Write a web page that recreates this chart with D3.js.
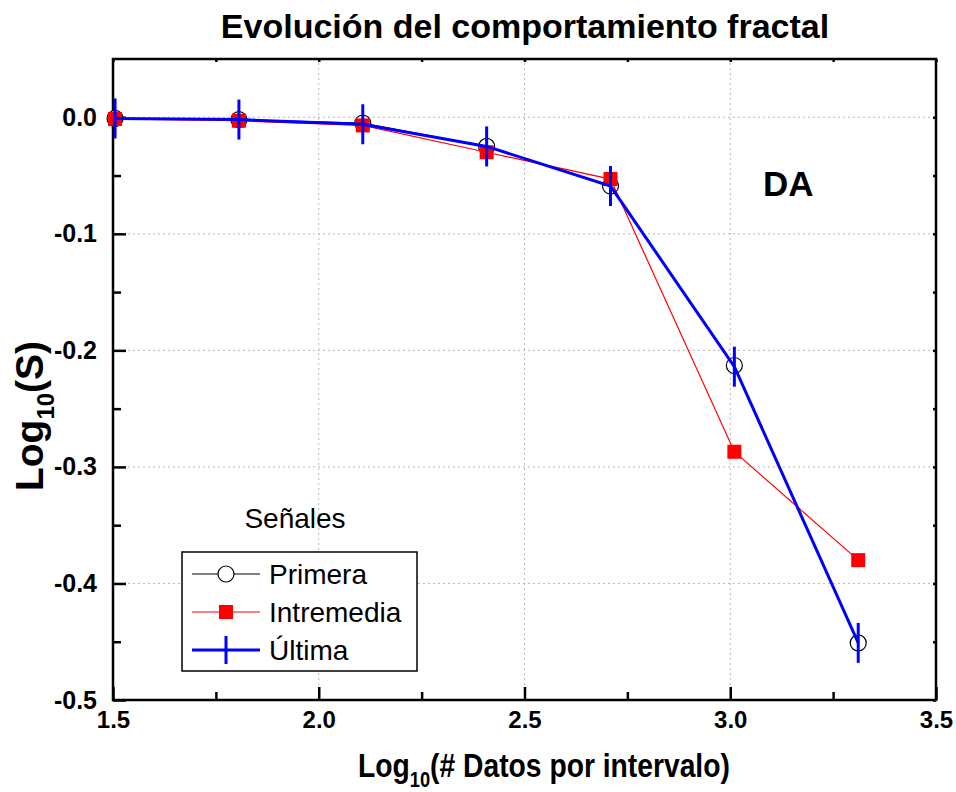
<!DOCTYPE html>
<html>
<head>
<meta charset="utf-8">
<script src="https://cdn.jsdelivr.net/npm/d3@7/dist/d3.min.js"></script>
<style>
  html, body { margin: 0; padding: 0; background: #fff; }
  svg { display: block; font-family: "Liberation Sans", Arial, Helvetica, sans-serif; }
</style>
</head>
<body>
<svg id="chart" width="956" height="792"></svg>
<script>
// Log10 of the number of samples per interval (32 ... 2048)
const logN = [1.505, 1.806, 2.107, 2.408, 2.709, 3.010, 3.311];

// Log10(S) for each signal
const primera    = [-0.001, -0.002, -0.005, -0.025, -0.059, -0.213, -0.451];
const intremedia = [-0.0015, -0.003, -0.007, -0.030, -0.053, -0.287, -0.380];
const ultima     = [-0.001, -0.002, -0.006, -0.025, -0.059, -0.214, -0.451];

const seriesNames = ["Primera", "Intremedia", "Última"];

const xMajorTicks = [1.5, 2.0, 2.5, 3.0, 3.5];
const xMinorTicks = [1.75, 2.25, 2.75, 3.25];
const yMajorTicks = [0.0, -0.1, -0.2, -0.3, -0.4, -0.5];
const yMinorTicks = [-0.05, -0.15, -0.25, -0.35, -0.45];

const svg = d3.select("#chart");
const margin = { left: 113, right: 20, top: 59, bottom: 92 };
const W = 956, H = 792;
const x = d3.scaleLinear().domain([1.5, 3.5]).range([margin.left, W - margin.right]);
const y = d3.scaleLinear().domain([-0.5, 0.05]).range([H - margin.bottom, margin.top]);

const [x0, x1] = x.range();
const [y0, y1] = y.range(); // y0 bottom, y1 top

// dotted grid on the inner major ticks
const grid = svg.append("g").attr("stroke", "#b8b8b8").attr("stroke-width", 1).attr("stroke-dasharray", "2,3");
grid.selectAll("line.gx").data(xMajorTicks.filter(v => v > 1.5 && v < 3.5)).join("line")
  .attr("x1", d => x(d)).attr("x2", d => x(d)).attr("y1", y0).attr("y2", y1);
grid.selectAll("line.gy").data(yMajorTicks.filter(v => v > -0.5)).join("line")
  .attr("y1", d => y(d)).attr("y2", d => y(d)).attr("x1", x0).attr("x2", x1);

// frame
svg.append("rect").attr("x", x0).attr("y", y1).attr("width", x1 - x0).attr("height", y0 - y1)
  .attr("fill", "none").attr("stroke", "#000").attr("stroke-width", 2.5);

// axes with inward ticks
function styleAxis(g) {
  g.select(".domain").remove();
  g.selectAll(".tick line").attr("stroke", "#000").attr("stroke-width", 2.5);
}
const xAxis = svg.append("g").attr("transform", `translate(0,${y0})`)
  .call(d3.axisBottom(x).tickValues(xMajorTicks).tickSize(-13).tickPadding(11).tickFormat(d3.format(".1f")))
  .call(styleAxis);
xAxis.selectAll("text").attr("font-size", 24).attr("font-weight", "bold").attr("fill", "#000")
  .attr("font-family", "'Liberation Sans', Arial, sans-serif");
svg.append("g").attr("transform", `translate(0,${y0})`)
  .call(d3.axisBottom(x).tickValues(xMinorTicks).tickSize(-8).tickFormat(""))
  .call(styleAxis);

const yAxis = svg.append("g").attr("transform", `translate(${x0},0)`)
  .call(d3.axisLeft(y).tickValues(yMajorTicks).tickSize(-13).tickPadding(16).tickFormat(d3.format(".1f")))
  .call(styleAxis);
yAxis.selectAll("text").attr("font-size", 25).attr("font-weight", "bold").attr("fill", "#000")
  .attr("font-family", "'Liberation Sans', Arial, sans-serif")
  .text(d => d3.format(".1f")(d).replace("−", "-"));
svg.append("g").attr("transform", `translate(${x0},0)`)
  .call(d3.axisLeft(y).tickValues(yMinorTicks).tickSize(-8).tickFormat(""))
  .call(styleAxis);

// small ticks on the top and right edges
svg.append("g").attr("transform", `translate(0,${y1})`)
  .call(d3.axisTop(x).tickValues(xMajorTicks.concat(xMinorTicks)).tickSize(-3).tickFormat(""))
  .call(styleAxis);
svg.append("g").attr("transform", `translate(${x1},0)`)
  .call(d3.axisRight(y).tickValues(yMajorTicks.concat(yMinorTicks)).tickSize(-3).tickFormat(""))
  .call(styleAxis);

const pts = arr => logN.map((v, i) => [v, arr[i]]);
const line = d3.line().x(d => x(d[0])).y(d => y(d[1]));

// Primera: thin black line, open circles
svg.append("path").attr("d", line(pts(primera))).attr("fill", "none").attr("stroke", "#000").attr("stroke-width", 1);
svg.append("g").selectAll("circle").data(pts(primera)).join("circle")
  .attr("cx", d => x(d[0])).attr("cy", d => y(d[1])).attr("r", 8)
  .attr("fill", "#fff").attr("stroke", "#000").attr("stroke-width", 1.2);

// Intremedia: thin red line, filled squares
svg.append("path").attr("d", line(pts(intremedia))).attr("fill", "none").attr("stroke", "#ff0000").attr("stroke-width", 1.2);
svg.append("g").selectAll("rect").data(pts(intremedia)).join("rect")
  .attr("x", d => x(d[0]) - 7).attr("y", d => y(d[1]) - 7).attr("width", 14).attr("height", 14)
  .attr("fill", "#ff0000");

// Última: thick blue line, vertical bar markers
svg.append("path").attr("d", line(pts(ultima))).attr("fill", "none").attr("stroke", "#0000ff").attr("stroke-width", 3);
svg.append("g").selectAll("line").data(pts(ultima)).join("line")
  .attr("x1", d => x(d[0])).attr("x2", d => x(d[0]))
  .attr("y1", d => y(d[1]) - 20).attr("y2", d => y(d[1]) + 20)
  .attr("stroke", "#0000ff").attr("stroke-width", 3);

// title
svg.append("text").attr("x", 525).attr("y", 38).attr("text-anchor", "middle")
  .attr("font-size", 34).attr("font-weight", "bold").text("Evolución del comportamiento fractal");

// panel tag
svg.append("text").attr("x", 763).attr("y", 196)
  .attr("font-size", 35).attr("font-weight", "bold").text("DA");

// x axis title, narrowed to fit under the axis
const xt = svg.append("g");
const xtText = xt.append("text").attr("x", 0).attr("y", 0).attr("font-size", 34).attr("font-weight", "bold");
xtText.append("tspan").text("Log");
xtText.append("tspan").attr("font-size", 22).attr("dy", 10).text("10");
xtText.append("tspan").attr("dy", -10).text("(# Datos por intervalo)");
{
  const w = xtText.node().getComputedTextLength();
  const s = 372 / w;
  xt.attr("transform", `translate(358,777) scale(${s},1)`);
}

// y axis title
const ytText = svg.append("text").attr("transform", "translate(43,416) rotate(-90)")
  .attr("text-anchor", "middle").attr("font-size", 39).attr("font-weight", "bold");
ytText.append("tspan").text("Log");
ytText.append("tspan").attr("font-size", 24).attr("dy", 11).text("10");
ytText.append("tspan").attr("dy", -11).text("(S)");

// legend
svg.append("text").attr("x", 295).attr("y", 528).attr("text-anchor", "middle")
  .attr("font-size", 28).text("Señales");
const lg = svg.append("g");
lg.append("rect").attr("x", 182).attr("y", 552).attr("width", 235).attr("height", 119)
  .attr("fill", "#fff").attr("stroke", "#000").attr("stroke-width", 1.5);
const rowY = [574, 612, 650];
const sx0 = 192, sx1 = 260, sc = 226;
// Primera
lg.append("line").attr("x1", sx0).attr("x2", sx1).attr("y1", rowY[0]).attr("y2", rowY[0]).attr("stroke", "#555").attr("stroke-width", 1.5);
lg.append("circle").attr("cx", sc).attr("cy", rowY[0]).attr("r", 8).attr("fill", "#fff").attr("stroke", "#000").attr("stroke-width", 1.2);
// Intremedia
lg.append("line").attr("x1", sx0).attr("x2", sx1).attr("y1", rowY[1]).attr("y2", rowY[1]).attr("stroke", "#ff0000").attr("stroke-width", 1.2);
lg.append("rect").attr("x", sc - 7).attr("y", rowY[1] - 7).attr("width", 14).attr("height", 14).attr("fill", "#ff0000");
// Última
lg.append("line").attr("x1", sx0).attr("x2", sx1).attr("y1", rowY[2]).attr("y2", rowY[2]).attr("stroke", "#0000ff").attr("stroke-width", 3);
lg.append("line").attr("x1", sc).attr("x2", sc).attr("y1", rowY[2] - 14).attr("y2", rowY[2] + 14).attr("stroke", "#0000ff").attr("stroke-width", 3);
lg.selectAll("text.lab").data(seriesNames).join("text")
  .attr("x", 269).attr("y", (d, i) => rowY[i] + 10).attr("font-size", 28).text(d => d);
</script>
</body>
</html>
